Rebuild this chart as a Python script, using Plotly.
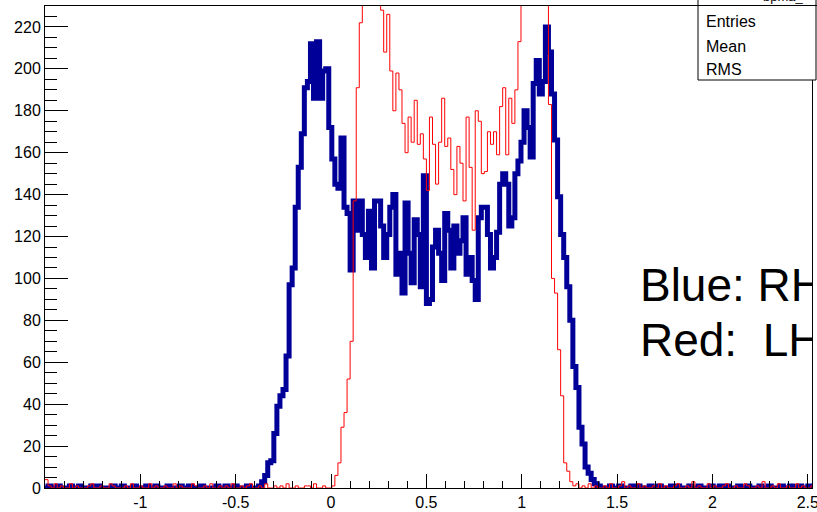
import numpy as np
import plotly.graph_objects as go

# ---------------- data (bin counts, bins of width 0.016 starting at -1.5) ----------------
x_start = -1.5
bin_width = 0.016

blue_left = [0,1,0,0,1,0,0,0,1,0, 0,1,0,0,0,1,0,1,0,0, 0,0,1,0,0,1,0,0,0,1,
             0,0,0,1,0,0,1,0,0,0, 1,0,0,0,1,0,0,1,0,0, 0,1,0,0,0,0,1,0,0,1,
             0,0,1,0,0,0,1,0,0]
blue_mid = [0,1,3,6,12,13,26,39,44,47,
            63,97,105,134,153,169,191,194,212,186,
            213,186,199,200,172,157,145,143,167,134,
            131,104,137,123,137,121,110,132,105,137,
            137,125,110,121,134,140,102,112,93,136,
            112,98,128,121,96,149,88,90,115,123,
            112,99,131,123,105,125,112,118,129,102,
            110,99,90,129,134,134,121,105,110,122,
            145,150,145,125,129,150,156,165,180,172,
            158,193,204,188,194,220,208,188,166,139,
            121,110,96,80,58,48,29,21,10,7,
            4,2,1,0]
blue_right = [0,0,1,0,0,1,0,0,0,1, 0,1,0,0,0,1,0,0,1,0, 0,0,1,0,1,0,0,0,1,0,
              0,1,0,0,0,1,0,0,1,0, 1,0,0,0,1,0,0,1,0,0, 0,1,0,0,1,0,0,0,1,0,
              0,1,0,0,1,0,0,1,0]

red_left = [4,1,0,2,0,1,0,0,2,0, 1,0,0,0,1,2,0,0,1,0, 0,2,1,0,0,0,1,0,2,0,
            0,1,0,0,2,0,1,0,0,1, 0,0,2,0,1,0,0,0,2,1, 0,0,1,0,2,0,0,1,0,1,
            0,2,0,0,1,0,1,2,0]
red_mid = [0,1,0,2,0,0,1,0,1,0, 2,0,0,1,0,0,1,1,0,2, 0,0,1,0,
           0,1,6,12,29,36,52,70,137,191,
           222,250,275,290,300,290,260,228,208,226,
           199,180,198,190,174,160,177,165,185,164,
           169,157,142,177,164,145,165,186,163,167,
           152,140,163,155,137,177,153,123,180,175,
           150,151,170,164,170,159,182,191,159,186,
           174,190,213,245,270,290,310,320,315,300,
           280,240,183,100,93,66,44,12,8,3,
           1,2,0,1,0,2,0,1,0,0]
red_right = [1,0,2,0,0,1,3,0,1,0, 0,2,0,1,0,0,1,0,2,0, 1,0,0,1,2,0,0,1,0,3,
             0,1,0,0,2,0,1,0,0,1, 2,0,0,1,0,0,2,1,0,0, 1,0,3,0,0,1,0,2,0,0,
             1,0,0,2,0,1,0,0,1]

blue_counts = blue_left + blue_mid + blue_right
red_counts = red_left + red_mid + red_right

x_tickvals = [-1, -0.5, 0, 0.5, 1, 1.5, 2, 2.5]
x_ticktext = ["-1", "-0.5", "0", "0.5", "1", "1.5", "2", "2.5"]
y_tickvals = list(range(0, 221, 20))
y_ticktext = [str(v) for v in y_tickvals]

stats_labels = ["Entries", "Mean", "RMS"]
hist_title = "bpma_"
legend_lines = ["Blue: RH", "Red:\u00a0 LH"]

# ---------------- build step outlines ----------------
def steps(counts):
    n = len(counts)
    edges = x_start + bin_width * np.arange(n + 1)
    xs = list(edges)
    ys = list(counts) + [counts[-1]]
    return xs, ys

bx, by = steps(blue_counts)
rx, ry = steps(red_counts)

W, H = 817, 512
L, R, T, B = 45, 5, 6, 24
pw, ph = W - L - R, H - T - B
x_range = [-1.5, -1.5 + pw / 190.7]

def px2paper_x(px):
    return (px - L) / pw

def py2paper_y(py):
    return (H - B - py) / ph

fig = go.Figure()
fig.add_trace(go.Scatter(x=bx, y=by, mode="lines", line=dict(color="#000099", width=5, shape="hv"),
                         hoverinfo="skip"))
fig.add_trace(go.Scatter(x=rx, y=ry, mode="lines", line=dict(color="#ff0000", width=1, shape="hv"),
                         hoverinfo="skip"))

# big legend text, clipped by the plot frame
fig.add_trace(go.Scatter(x=[1.62, 1.62], y=[94.5, 68.7], mode="text", text=legend_lines,
                         textposition="middle right",
                         textfont=dict(family="Liberation Sans, Arial", size=46, color="black"),
                         cliponaxis=True, hoverinfo="skip"))

font = dict(family="Liberation Sans, Arial", size=16, color="black")

fig.update_layout(
    width=W, height=H,
    margin=dict(l=L, r=R, t=T, b=B, pad=0, autoexpand=False),
    paper_bgcolor="white", plot_bgcolor="white",
    showlegend=False,
    font=font,
    xaxis=dict(range=x_range, showline=True, linecolor="black", linewidth=1, mirror=True,
               ticks="inside", ticklen=14, tickcolor="black", tickwidth=1,
               tickmode="array", tickvals=x_tickvals, ticktext=x_ticktext,
               minor=dict(ticks="inside", ticklen=7, tickcolor="black", tickmode="linear",
                          tick0=0, dtick=0.1, showgrid=False),
               showgrid=False, zeroline=False, tickfont=font, automargin=False,
               ticklabeloverflow="allow"),
    yaxis=dict(range=[0, 230], showline=True, linecolor="black", linewidth=1, mirror=True,
               ticks="inside", ticklen=23, tickcolor="black", tickwidth=1,
               tickmode="array", tickvals=y_tickvals, ticktext=y_ticktext,
               minor=dict(ticks="inside", ticklen=12, tickcolor="black", tickmode="linear",
                          tick0=0, dtick=5, showgrid=False),
               showgrid=False, zeroline=False, tickfont=font, automargin=False,
               ticklabeloverflow="allow"),
)

# stats box
fig.add_shape(type="rect", xref="paper", yref="paper",
              x0=px2paper_x(698), x1=px2paper_x(816), y0=py2paper_y(80), y1=py2paper_y(-10),
              line=dict(color="black", width=1), fillcolor="white", layer="above")
fig.add_shape(type="line", xref="paper", yref="paper",
              x0=px2paper_x(698), x1=px2paper_x(830), y0=py2paper_y(5.5), y1=py2paper_y(5.5),
              line=dict(color="black", width=1), layer="above")

for lbl, base in zip(stats_labels, [27, 52, 75]):
    fig.add_annotation(x=px2paper_x(704), y=py2paper_y(base - 6), xref="paper", yref="paper",
                       text=lbl, showarrow=False, xanchor="left", yanchor="middle",
                       font=font)
fig.add_annotation(x=px2paper_x(761), y=py2paper_y(6), xref="paper", yref="paper",
                   text=hist_title, showarrow=False, xanchor="left", yanchor="bottom",
                   font=dict(family="Liberation Sans, Arial", size=13, color="black"))

fig.write_html("out.html")
